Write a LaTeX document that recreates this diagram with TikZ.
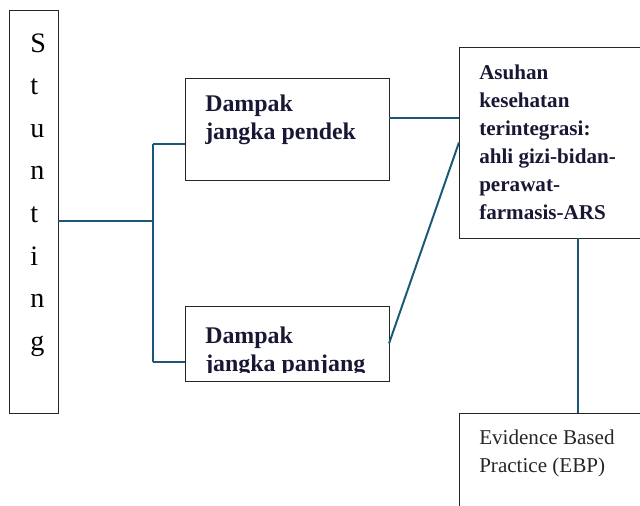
\documentclass[tikz,border=0pt]{standalone}
\usepackage{fontspec}
\setmainfont{Liberation Serif}
\usepackage{tikz}
\usetikzlibrary{calc, positioning}

\definecolor{linkblue}{RGB}{27,88,120}
\definecolor{inknavy}{RGB}{24,24,52}

\tikzset{
    box/.style={draw=black!85, line width=0.6pt, inner sep=0pt, outer sep=0pt},
    link/.style={draw=linkblue, line width=1.4pt},
    boldtxt/.style={inner sep=0pt, align=left, text=inknavy, font=\bfseries\fontsize{17}{19.8}\selectfont},
    smalltxt/.style={inner sep=0pt, align=left, text=inknavy, font=\bfseries\fontsize{15}{19.8}\selectfont},
    plaintxt/.style={inner sep=0pt, align=left, text=black!85, font=\fontsize{15}{19.8}\selectfont}
}

\begin{document}
\begin{tikzpicture}[x=0.025cm, y=-0.025cm]
        \useasboundingbox (0,0) rectangle (640,506);
        \clip (0,0) rectangle (640,506);
        % boxes
        \node[box, minimum width=1.225cm, minimum height=10.075cm] (stunting) at (33.5,211.5) {};
        \node[box, minimum width=5.1cm, minimum height=2.55cm] (pendek) at (287,129) {};
        \node[box, minimum width=5.1cm, minimum height=1.875cm] (panjang) at (287,343.5) {};
        \node[box, minimum width=5.95cm, minimum height=4.775cm] (asuhan) at (578,142.5) {};
        \node[box, minimum width=5.95cm, minimum height=2.925cm] (ebp) at (578,471.5) {};
        % texts
        \node[inner sep=0pt, align=left, font=\fontsize{20}{30.3}\selectfont, below right=0.58cm and 0.53cm of stunting.north west] (stunttxt) {S\\t\\u\\n\\t\\i\\n\\g};
        \node[boldtxt, below right=0.425cm and 0.5cm of pendek.north west] (pendektxt) {Dampak\\jangka pendek};
        \begin{scope}
            \clip (185,306) rectangle (389,372);
            \node[boldtxt, below right=0.525cm and 0.5cm of panjang.north west] (panjangtxt) {Dampak\\jangka panjang};
        \end{scope}
        \node[smalltxt, below right=0.45cm and 0.5cm of asuhan.north west] (asuhantxt) {Asuhan\\kesehatan\\terintegrasi:\\ahli gizi-bidan-\\perawat-\\farmasis-ARS};
        \node[plaintxt, below right=0.425cm and 0.5cm of ebp.north west] (ebptxt) {Evidence Based\\Practice (EBP)};
        % connectors
        \coordinate (fork) at (153,221);
        \coordinate (forktop) at (153,144);
        \coordinate (forkbot) at (153,362);
        \draw[link] (stunting.east |- fork) -- (fork);
        \draw[link] (forktop) -- (forkbot);
        \draw[link] (forktop) -- (forktop -| pendek.west);
        \draw[link] (forkbot) -- (forkbot -| panjang.west);
        \draw[link] ([yshift=0.275cm]pendek.east) -- ([yshift=0.275cm]pendek.east -| asuhan.west);
        \draw[link] (panjang.east) -- (asuhan.west);
        \draw[link] (asuhan.south) -- (ebp.north);
    \end{tikzpicture}
\end{document}
